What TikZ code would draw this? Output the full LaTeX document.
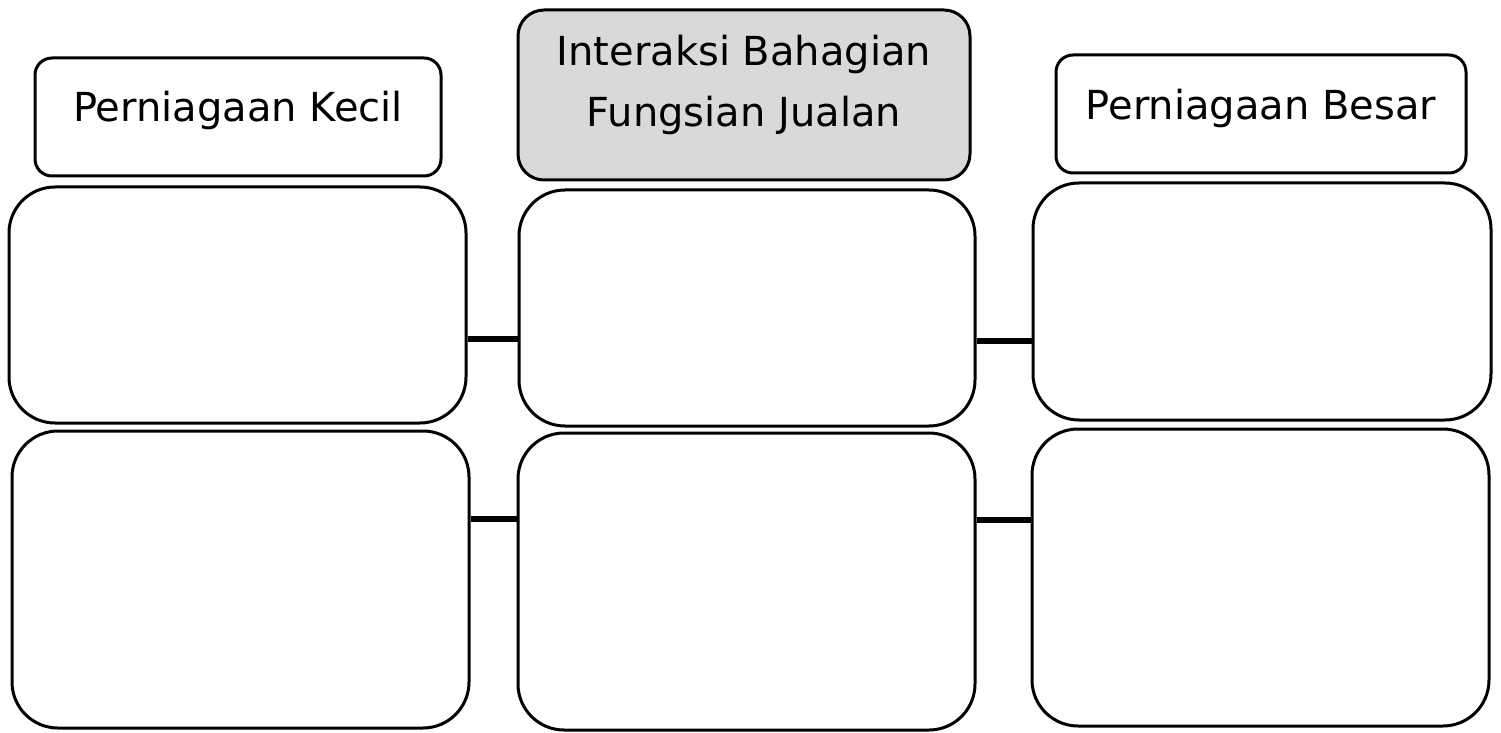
\documentclass[tikz,border=0pt]{standalone}
\usepackage{fontspec}
\setmainfont{DejaVu Sans}
\usetikzlibrary{positioning}

\begin{document}
\begin{tikzpicture}[
  x=0.5pt,y=-0.5pt,
  font=\fontsize{20}{31}\selectfont,
  hdr/.style={draw=black, line width=1.5pt, rounded corners=8.5pt, fill=white, inner xsep=0pt, inner ysep=0pt, align=center},
  cell/.style={draw=black, line width=1.5pt, rounded corners=23pt, fill=white, inner sep=0pt},
  link/.style={draw=black, line width=3pt}
]
\useasboundingbox (0,0) rectangle (1501,733);

% Headers
\node[hdr, minimum width=203pt, text height=32pt, text depth=27pt] (kecil) at (238,117) {Perniagaan Kecil};
\node[hdr, minimum width=226pt, text height=58.5pt, text depth=26.5pt, rounded corners=13pt, fill=black!15] (jualan) at (744,95)
  {Interaksi Bahagian\\Fungsian Jualan};
\node[hdr, minimum width=205pt, text height=32.5pt, text depth=26.5pt] (besar) at (1261,114) {Perniagaan Besar};

% ================= Row 1 =================
\node[cell, minimum width=228.5pt, minimum height=118pt] (k1) at (237.5,305) {};
\node[cell, minimum width=228pt, minimum height=118pt] (j1) at (747,308) {};
\node[cell, minimum width=229pt, minimum height=118.5pt] (b1) at (1262,301.5) {};

\draw[link] ([yshift=-16.75pt]k1.east) -- ([yshift=-15.25pt]j1.west);
\draw[link] ([yshift=-16.5pt]j1.east) -- ([yshift=-19.75pt]b1.west);

% ================= Row 2 =================
\node[cell, minimum width=228.5pt, minimum height=148.5pt] (k2) at (240.5,579.5) {};
\node[cell, minimum width=228.5pt, minimum height=148.5pt] (j2) at (746.5,581.5) {};
\node[cell, minimum width=228.5pt, minimum height=148.5pt] (b2) at (1260.5,577.5) {};

\draw[link] ([yshift=30.25pt]k2.east) -- ([yshift=31.25pt]j2.west);
\draw[link] ([yshift=30.75pt]j2.east) -- ([yshift=28.75pt]b2.west);

\end{tikzpicture}
\end{document}
